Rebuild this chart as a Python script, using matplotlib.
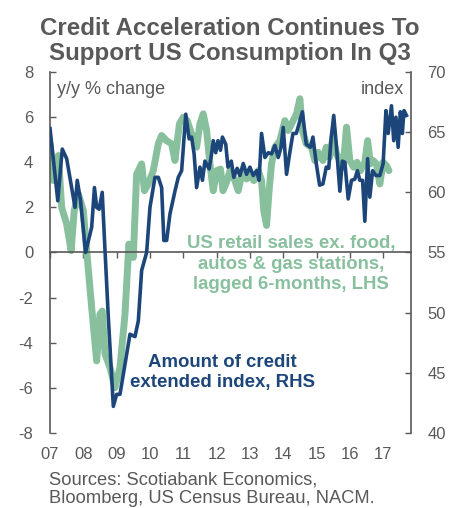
import matplotlib
matplotlib.use("Agg")
import matplotlib.pyplot as plt
import numpy as np

plt.rcParams['font.family'] = ['Liberation Sans', 'DejaVu Sans']
plt.rcParams['axes.unicode_minus'] = False

# months since Jan 2007
credit_m = [0, 2.8, 4.4, 6, 9, 9.8, 11, 12.8, 15, 16, 16.8, 17.7, 18.8, 19.5, 21, 22.8, 24, 25.2,
            27, 28.8, 30.6, 31.8, 33, 34.8, 36, 37.8, 39, 40.2, 41, 42, 43.2, 45, 46.2, 47.4,
            48.9, 50.1, 51, 51.9, 52.8, 54, 54.9, 55.8, 57.3, 58.2, 58.8, 59.7, 60.5, 61.4,
            62.1, 63.3, 64.1, 65.3, 66.2, 67.4, 68.4, 69.6, 70.8, 72, 73.2, 74.4, 75.3, 76.2,
            77.4, 78.6, 79.8, 81, 82.2, 83.2, 84, 85.2, 86.3, 87.5, 88.7, 89.7, 90.9, 92.3,
            93.8, 94.7, 95.9, 97.1, 98.3, 99.5, 100.4, 101.3, 102.2, 103.2, 104.4, 105.3,
            106.2, 107.4, 108.6, 109.8, 110.7, 111.6, 112.6, 113.4, 114.4, 115.2, 116.2,
            117.4, 118.8, 120, 121, 121.8, 123, 123.8, 124.6, 125.4, 126.2, 126.9, 127.5, 128.4]
credit_idx = [65.3, 59.3, 63.6, 62.8, 58.75, 61.0, 59.3, 55.0, 57.1, 60.4, 58.75, 58.6, 60.0, 56.6,
              49.6, 42.2, 43.2, 43.2, 45.7, 48.2, 48.0, 49.3, 53.5, 55.0, 58.75, 61.25, 61.25,
              60.4, 56.0, 56.0, 58.2, 60.1, 61.25, 61.8, 66.5, 64.45, 64.6, 63.2, 60.4, 62.1,
              61.0, 62.6, 61.95, 63.2, 64.3, 63.3, 64.3, 63.5, 64.6, 64.0, 62.1, 62.6, 61.25,
              62.0, 61.4, 62.4, 61.5, 62.1, 61.4, 61.8, 61.0, 64.9, 62.9, 63.3, 63.2, 63.9,
              62.9, 63.75, 65.4, 61.5, 63.2, 64.9, 64.9, 65.7, 66.7, 64.0, 63.75, 64.6, 62.4,
              60.6, 60.7, 62.1, 62.0, 64.6, 66.4, 63.75, 60.1, 62.6, 62.5, 59.45, 61.0, 61.1,
              61.8, 61.0, 61.0, 57.6, 62.8, 59.6, 61.8, 61.4, 61.4, 62.4, 66.8, 64.9, 67.2,
              64.3, 66.25, 63.75, 66.7, 64.9, 66.8, 66.4]

retail_m = [0, 1.2, 3, 4.2, 6, 7.6, 8.7, 10.2, 12, 13.2, 15, 16.8, 18, 18.8, 19.8, 21.6, 23.4,
            25.2, 27, 28.4, 30, 31.2, 33, 34, 35.4, 37.2, 39, 40.2, 42, 43.8, 45, 46.6, 48,
            49.4, 51, 52.8, 54, 55.2, 56.4, 57.6, 58.8, 60, 61.4, 62.3, 63.8, 64.8, 66.6,
            67.8, 69.3, 70.8, 72, 73.4, 75, 76.2, 77, 78, 78.9, 79.8, 81, 82.8, 84.6, 85.8,
            87.6, 88.8, 90, 90.9, 92.3, 94.2, 95.4, 96.6, 98.3, 99.5, 100.7, 101.9, 103.2,
            104.4, 105.6, 106.8, 108, 109.4, 110.6, 111.8, 113.4, 114.4, 115.4, 116.4, 117.6,
            118.8, 120, 121.2, 122.1]
retail_yoy = [4.82, 3.19, 4.3, 2.0, 1.26, 0.08, 1.85, 2.6, 1.85, 0.08, -2.44, -4.81, -2.74, -2.6,
              -4.5, -5.1, -6.0, -5.1, -2.74, 0.37, -0.22, 3.48, 3.93, 2.74, 3.04, 3.63, 4.82,
              5.19, 4.96, 4.82, 4.08, 5.7, 6.0, 5.85, 5.26, 4.67, 5.7, 6.15, 5.41, 3.93, 2.74,
              3.63, 3.7, 2.74, 3.19, 3.63, 3.19, 2.74, 3.63, 3.26, 3.48, 3.19, 3.63, 3.19, 1.85,
              1.2, 2.74, 3.93, 4.67, 4.96, 5.85, 5.41, 5.85, 6.15, 6.82, 5.41, 4.82, 4.67, 4.08,
              4.44, 4.08, 4.67, 4.22, 5.11, 4.37, 4.08, 3.78, 5.56, 4.08, 3.78, 4.0, 3.63, 4.0,
              4.96, 3.93, 4.08, 3.93, 3.04, 4.0, 3.85, 3.63]

years = list(range(2007, 2018))
year_labels = ['07', '08', '09', '10', '11', '12', '13', '14', '15', '16', '17']

GREEN = '#88C09E'
NAVY = '#1C4679'
GREY = '#595959'

fig = plt.figure(figsize=(4.59, 5.08), dpi=100)
ax = fig.add_axes([0.109, 0.148, 0.786, 0.710])
ax2 = ax.twinx()

ax.plot(2007 + np.array(retail_m) / 12, retail_yoy, color=GREEN, lw=5, solid_joinstyle='round',
        solid_capstyle='round')
ax2.plot(2007 + np.array(credit_m) / 12, credit_idx, color=NAVY, lw=2.6, solid_joinstyle='round')

ax.set_xlim(2007, 2017.83)
ax.set_ylim(-8, 8)
ax2.set_ylim(40, 70)
ax.set_yticks(range(-8, 9, 2))
ax2.set_yticks(range(40, 71, 5))

for a in (ax, ax2):
    a.spines['top'].set_visible(False)
    a.spines['bottom'].set_visible(False)
    a.spines['left'].set_color(GREY)
    a.spines['right'].set_color(GREY)
    a.spines['left'].set_linewidth(1.2)
    a.spines['right'].set_linewidth(1.2)
ax.spines['right'].set_visible(False)
ax2.spines['left'].set_visible(False)

ax.tick_params(axis='y', direction='in', length=4, width=1, color=GREY, labelcolor=GREY,
               labelsize=12, pad=12)
ax2.tick_params(axis='y', direction='in', length=4, width=1, color=GREY, labelcolor=GREY,
                labelsize=12, pad=12)

# zero line with year ticks
ax.spines['bottom'].set_visible(True)
ax.spines['bottom'].set_position(('data', 0))
ax.spines['bottom'].set_color(GREY)
ax.spines['bottom'].set_linewidth(1.2)
ax.set_xticks(years)
ax.tick_params(axis='x', direction='out', length=4, width=1, color=GREY, labelbottom=False)

sec = ax.secondary_xaxis(0.0)
sec.set_xticks(years)
sec.set_xticklabels(year_labels)
sec.spines['bottom'].set_visible(False)
sec.tick_params(axis='x', length=0, pad=10, labelsize=12, labelcolor=GREY)

ax.text(0.02, 0.975, 'y/y % change', transform=ax.transAxes, fontsize=13, color=GREY,
        ha='left', va='top')
ax2.text(0.98, 0.975, 'index', transform=ax2.transAxes, fontsize=13, color=GREY,
         ha='right', va='top')

# labels, one line each on its baseline
green_lines = ['US retail sales ex. food,', 'autos & gas stations,', 'lagged 6-months, LHS']
for txt, yb in zip(green_lines, [0.5124, 0.4705, 0.4311]):
    fig.text(0.634, yb, txt, fontsize=13.4, fontweight='bold', color=GREEN,
             ha='center', va='baseline')

navy_lines = ['Amount of credit', 'extended index, RHS']
for txt, yb in zip(navy_lines, [0.2781, 0.2388]):
    fig.text(0.484, yb, txt, fontsize=13.4, fontweight='bold', color=NAVY,
             ha='center', va='baseline')

title_lines = ['Credit Acceleration Continues To', 'Support US Consumption In Q3']
for txt, yb in zip(title_lines, [0.9311, 0.8819]):
    fig.text(0.5, yb, txt, fontsize=17.4, fontweight='bold', color=GREY,
             ha='center', va='baseline')

source_lines = ['Sources: Scotiabank Economics,', 'Bloomberg, US Census Bureau, NACM.']
for txt, yb in zip(source_lines, [0.0467, 0.0093]):
    fig.text(0.107, yb, txt, fontsize=13.2, color=GREY, ha='left', va='baseline')

fig.savefig('out.png', dpi=100)
